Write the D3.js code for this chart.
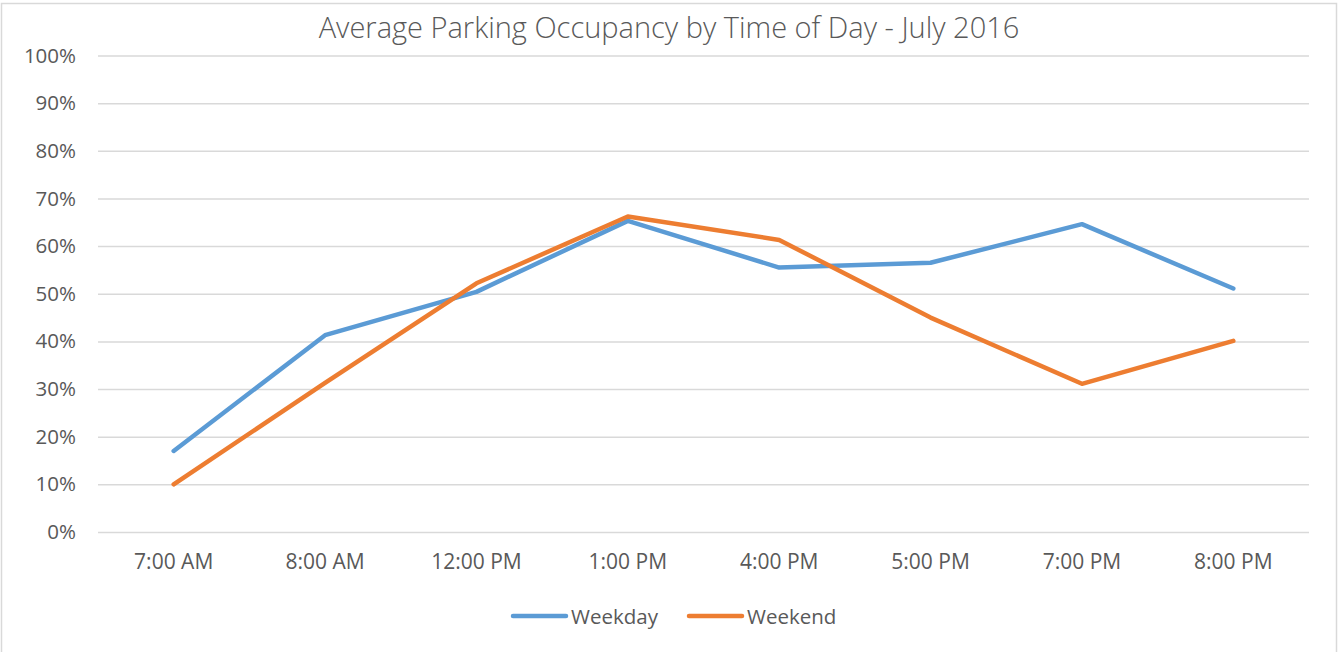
<!DOCTYPE html>
<html><head><meta charset="utf-8">
<script src="https://cdn.jsdelivr.net/npm/d3@7"></script>
<style>body{margin:0;background:#fff;} text{font-family:"Open Sans","Liberation Sans",sans-serif;fill:#595959;}</style>
</head><body>
<svg id="c" width="1338" height="652"></svg>
<script>
const categories = ["7:00 AM","8:00 AM","12:00 PM","1:00 PM","4:00 PM","5:00 PM","7:00 PM","8:00 PM"];
const weekday = [0.170,0.413,0.504,0.653,0.555,0.565,0.646,0.511];
const weekend = [0.100,0.313,0.522,0.662,0.613,0.450,0.311,0.401];
const yTicks = [0,0.1,0.2,0.3,0.4,0.5,0.6,0.7,0.8,0.9,1.0];
const seriesNames = ["Weekday","Weekend"];
const colors = ["#5b9bd5","#ed7d31"];

const svg = d3.select("#c");
svg.append("rect").attr("x",1.5).attr("y",3.5).attr("width",1335).attr("height",660)
  .attr("fill","#fff").attr("stroke","#d9d9d9").attr("stroke-width",1.5);

const x = d3.scaleBand().domain(categories).range([98,1309]);
const y = d3.scaleLinear().domain([0,1]).range([532,55.5]);

svg.append("text").attr("x",669).attr("y",38).attr("text-anchor","middle")
  .style("font-size","29px").style("font-family","'Open Sans', sans-serif").style("font-weight","300")
  .text("Average Parking Occupancy by Time of Day - July 2016");

const grid = svg.append("g").attr("transform","translate(98,0)")
  .call(d3.axisLeft(y).tickValues(yTicks).tickSize(-1211).tickFormat(d3.format(".0%")).tickPadding(22));
grid.select(".domain").remove();
grid.selectAll(".tick line").attr("stroke","#d9d9d9").attr("stroke-width",1.5);
grid.selectAll(".tick text").style("font-size","20.5px").attr("fill","#595959");

const xa = svg.append("g").attr("transform","translate(0,532)")
  .call(d3.axisBottom(x).tickSize(0).tickPadding(22));
xa.select(".domain").remove();
xa.selectAll(".tick text").style("font-size","21px").attr("fill","#595959");

const line = d3.line().x((d,i)=>x(categories[i])+x.bandwidth()/2).y(d=>y(d));
[weekday,weekend].forEach((s,k)=>{
  svg.append("path").datum(s).attr("d",line).attr("fill","none")
    .attr("stroke",colors[k]).attr("stroke-width",4.5)
    .attr("stroke-linecap","round").attr("stroke-linejoin","round");
});

const leg = [{x:513,tx:571},{x:689,tx:747}];
seriesNames.forEach((n,k)=>{
  svg.append("line").attr("x1",leg[k].x).attr("x2",leg[k].x+53).attr("y1",616).attr("y2",616)
    .attr("stroke",colors[k]).attr("stroke-width",4.5).attr("stroke-linecap","round");
  svg.append("text").attr("x",leg[k].tx).attr("y",623.5).style("font-size","20.5px").text(n);
});
</script>
</body></html>
